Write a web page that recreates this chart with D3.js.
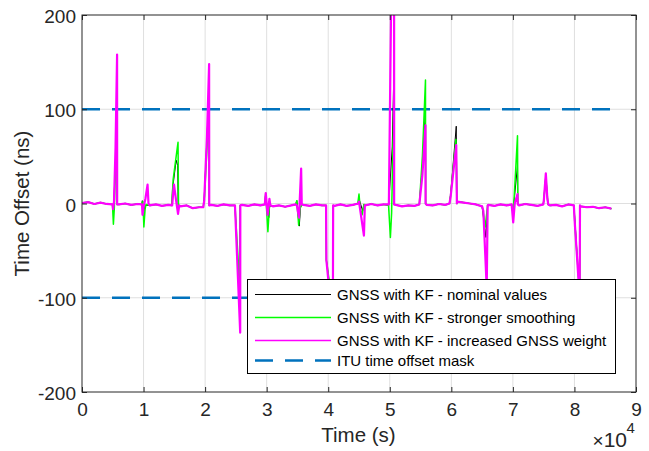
<!DOCTYPE html>
<html>
<head>
<meta charset="utf-8">
<script src="https://cdn.jsdelivr.net/npm/d3@7"></script>
<style>
  body { margin: 0; background: #fff; }
  svg { font-family: Arial, "Liberation Sans", sans-serif; }
</style>
</head>
<body>
<div id="chart"></div>
<script>
// time axis in seconds, offsets in ns
const xTicks = [0, 10000, 20000, 30000, 40000, 50000, 60000, 70000, 80000, 90000];
const yTicks = [-200, -100, 0, 100, 200];
const ituMask = [100, -100];
const ituSpan = [0, 86000];

// slow wander between events, one sample per 1000 s
const baseTimes = d3.range(0, 87000, 1000);
const baseValues = [
  0.5, 1.5, -0.5, 1, -0.5, 0, -1, 0, -1.5, -0.5,
  0, -2, -1, -2.5, -1.5, -2, -3, -2, -5, -4,
  -3, -1.5, -2.5, -1, -2, -1, -1.5, -2.5, -1, -2,
  -1.5, -3, -2, -3.5, -2, -2.5, -1.5, -2.5, -1, -2,
  -2, -2.5, -1, -2.5, -1.5, -1, -2, -0.5, -2, -1,
  -2, -1.5, -3, -2, -2.5, -1, -1.5, -2, -0.5, -1.5,
  0, 2, 1, 0, -1, -2, -1.5, -2.5, -1, -2,
  -1, -2, -0.5, -1.5, -2.5, -1, -2, -1.5, -3, -1,
  -2, -3, -4, -3.5, -5, -4, -5.5
];

// transients around each GNSS event: [t (s), offset (ns)]
const eventsNominal = [
  [[4950, -1], [5050, -8], [5150, -2], [5450, 45], [5700, 135], [5710, -1]],
  [[9700, -1], [9800, 3], [10000, -12], [10150, -4], [10300, -2]],
  [[14600, -2], [14700, 15], [15300, 46], [15550, 40], [15620, -2]],
  [[19700, -4], [19850, 5], [20300, 70], [20650, 120], [20670, -2]],
  [[24850, -2], [25650, -115], [25700, -2]],
  [[29700, -1], [29800, 8], [30350, -15], [30500, -2]],
  [[34700, -1], [34900, 3], [35300, -24], [35500, -4], [35700, -1]],
  [[39650, -2], [39700, -60], [40750, -115], [40800, -2]],
  [[44900, 0], [45000, 5], [45600, -8], [45800, -1]],
  [[49800, -2], [49900, 7], [50400, 60], [50700, 150], [50720, -1]],
  [[54800, -1], [55300, 40], [55800, 100], [55820, 0]],
  [[59700, 0], [59900, 10], [60800, 82], [60900, 0]],
  [[65000, -3], [65600, -36], [65900, -2]],
  [[69800, -1], [70000, -12], [70300, 10], [70750, 40], [70800, -1]],
  [[74900, -1], [75000, 2], [75350, 30], [75700, -1]],
  [[79900, -2], [80100, -20], [80850, -100], [80900, -2]]
];

const eventsSmooth = [
  [[4950, -1], [5100, -22], [5250, -5], [5500, 50], [5700, 110], [5710, -1]],
  [[9700, -1], [9900, 2], [10050, -25], [10250, -6], [10400, -1]],
  [[14600, -2], [14800, 25], [15500, 60], [15600, 65], [15680, -2]],
  [[19700, -4], [19900, 8], [20400, 70], [20650, 100], [20670, -2]],
  [[24850, -2], [25100, -30], [25650, -90], [25700, -2]],
  [[29700, -1], [29850, 11], [30000, -8], [30200, -30], [30450, -3]],
  [[34700, -1], [34900, 3], [35200, -23], [35450, -5], [35700, -1]],
  [[39650, -2], [39700, -60], [40750, -110], [40800, -2]],
  [[44800, 0], [45000, 10], [45200, -5], [45500, -12], [45800, -1]],
  [[49800, -2], [50100, -36], [50300, -10], [50700, 120], [50720, -1]],
  [[54800, -1], [55300, 50], [55800, 131], [55820, 0]],
  [[59700, 0], [59900, 10], [60750, 68], [60900, 0]],
  [[65000, -3], [65200, -10], [65500, -25], [65900, -2]],
  [[69800, -1], [70000, -8], [70200, 5], [70750, 72], [70800, -1]],
  [[74900, -1], [75000, 2], [75350, 28], [75700, -1]],
  [[79900, -2], [80100, -25], [80850, -95], [80900, -2]]
];

const eventsWeight = [
  [[4950, -1], [5050, -6], [5200, 2], [5450, 60], [5700, 158], [5710, -1]],
  [[9750, -1], [9830, -12], [10000, -4], [10300, 5], [10650, 20], [10800, 0]],
  [[14650, -2], [14800, 10], [14950, 20], [15250, 5], [15600, -11], [15800, -2]],
  [[19700, -4], [19850, 3], [20300, 70], [20650, 148], [20670, -2]],
  [[24850, -2], [25700, -137], [25720, -2]],
  [[29700, -1], [29850, 11], [30150, -12], [30450, 5], [30600, -2]],
  [[34700, -1], [34900, -2], [35250, -15], [35600, 37], [35700, -1]],
  [[39650, -2], [39700, -60], [40750, -130], [40800, -2]],
  [[44900, 0], [45000, 2], [45800, -34], [45950, -2]],
  [[49850, -1], [50200, 200], [50450, 280], [50700, 260], [50710, -1]],
  [[54800, -1], [55300, 30], [55800, 83], [55820, 0]],
  [[59700, 0], [59900, 8], [60800, 62], [60900, 0]],
  [[65000, -3], [65200, -8], [65750, -90], [65900, -2]],
  [[69800, -1], [70050, -20], [70300, 0], [70750, 10], [70800, -1]],
  [[74950, -1], [75050, 5], [75350, 32], [75600, 5], [75750, -1]],
  [[79900, -2], [80100, -25], [80850, -100], [80900, -2]]
];

const seriesNames = [
  "GNSS with KF - nominal values",
  "GNSS with KF - stronger smoothing",
  "GNSS with KF - increased GNSS weight"
];
const seriesColors = ["#000000", "#00ff00", "#ff00ff"];
const maskName = "ITU time offset mask";

function buildSeries(events) {
  let pts = [];
  baseTimes.forEach((t, i) => {
    let inside = events.some(e => t >= e[0][0] && t <= e[e.length - 1][0]);
    if (!inside) pts.push([t, baseValues[i]]);
  });
  events.forEach(e => e.forEach(p => pts.push(p)));
  pts.sort((a, b) => a[0] - b[0]);
  return pts;
}

const series = [eventsNominal, eventsSmooth, eventsWeight].map(buildSeries);

const width = 649, height = 451;
const m = {left: 82, top: 15, right: 636, bottom: 392};

const svg = d3.select("#chart").append("svg")
  .attr("width", width)
  .attr("height", height);

const x = d3.scaleLinear().domain([0, 90000]).range([m.left, m.right]);
const y = d3.scaleLinear().domain([-200, 200]).range([m.bottom, m.top]);

svg.append("defs").append("clipPath").attr("id", "plot")
  .append("rect")
  .attr("x", m.left).attr("y", m.top)
  .attr("width", m.right - m.left).attr("height", m.bottom - m.top);

// grid
const grid = svg.append("g").attr("stroke", "#dfdfdf").attr("stroke-width", 1);
grid.selectAll(".gx").data(xTicks.slice(1, -1)).join("line")
  .attr("x1", d => x(d)).attr("x2", d => x(d))
  .attr("y1", m.top).attr("y2", m.bottom);
grid.selectAll(".gy").data(yTicks.slice(1, -1)).join("line")
  .attr("x1", m.left).attr("x2", m.right)
  .attr("y1", d => y(d)).attr("y2", d => y(d));

const plot = svg.append("g").attr("clip-path", "url(#plot)");

// ITU mask
plot.selectAll(".mask").data(ituMask).join("line")
  .attr("x1", x(ituSpan[0])).attr("x2", x(ituSpan[1]))
  .attr("y1", d => y(d)).attr("y2", d => y(d))
  .attr("stroke", "#0072bd")
  .attr("stroke-width", 2.5)
  .attr("stroke-dasharray", "18,12");

const line = d3.line().x(d => x(d[0])).y(d => y(d[1]));
const widths = [1, 1.5, 2.2];

series.forEach((s, i) => {
  plot.append("path")
    .datum(s)
    .attr("fill", "none")
    .attr("stroke", seriesColors[i])
    .attr("stroke-width", widths[i])
    .attr("stroke-linejoin", "round")
    .attr("d", line);
});

// axes
const tickColor = "#262626";
const fs = 19;

const xAxis = svg.append("g")
  .attr("transform", "translate(0," + m.bottom + ")")
  .call(d3.axisBottom(x).tickValues(xTicks).tickFormat(d => String(d / 10000))
    .tickSizeInner(-5).tickSizeOuter(0).tickPadding(10.5));
const yAxis = svg.append("g")
  .attr("transform", "translate(" + m.left + ",0)")
  .call(d3.axisLeft(y).tickValues(yTicks).tickFormat(d => String(d))
    .tickSizeInner(-5).tickSizeOuter(0).tickPadding(6));
const xTop = svg.append("g")
  .attr("transform", "translate(0," + m.top + ")")
  .call(d3.axisTop(x).tickValues(xTicks).tickFormat("").tickSizeInner(-5).tickSizeOuter(0));
const yRight = svg.append("g")
  .attr("transform", "translate(" + m.right + ",0)")
  .call(d3.axisRight(y).tickValues(yTicks).tickFormat("").tickSizeInner(-5).tickSizeOuter(0));

[xAxis, yAxis, xTop, yRight].forEach(g => {
  g.select(".domain").remove();
  g.selectAll("line").attr("stroke", tickColor);
  g.selectAll("text").attr("fill", tickColor)
    .style("font-size", fs + "px")
    .style("font-family", "Arial, 'Liberation Sans', sans-serif");
});
yAxis.selectAll("text").attr("dy", "0.4em");

svg.append("rect")
  .attr("x", m.left).attr("y", m.top)
  .attr("width", m.right - m.left).attr("height", m.bottom - m.top)
  .attr("fill", "none")
  .attr("stroke", tickColor)
  .attr("stroke-width", 1);

// labels
svg.append("text")
  .attr("x", (m.left + m.right) / 2 - 0.5).attr("y", 441.5)
  .attr("text-anchor", "middle")
  .attr("fill", tickColor)
  .style("font-size", "20.5px")
  .text("Time (s)");

svg.append("text")
  .attr("transform", "translate(29," + (m.top + m.bottom) / 2 + ") rotate(-90)")
  .attr("text-anchor", "middle")
  .attr("fill", tickColor)
  .style("font-size", "20.5px")
  .text("Time Offset (ns)");

const expo = svg.append("text")
  .attr("x", 627).attr("y", 446.5)
  .attr("text-anchor", "end")
  .attr("fill", tickColor)
  .style("font-size", "21px");
expo.append("tspan").text("\u00d7").style("font-size", "19px");
expo.append("tspan").text("10");
svg.append("text")
  .attr("x", 626.5).attr("y", 432.5)
  .attr("fill", tickColor)
  .style("font-size", "15px")
  .text("4");

// legend
const legend = svg.append("g");
legend.append("rect")
  .attr("x", 247.5).attr("y", 279.5)
  .attr("width", 368).attr("height", 94)
  .attr("fill", "#fff")
  .attr("stroke", "#000")
  .attr("stroke-width", 1);

const legendRows = [294.5, 317.5, 340.5, 360.5];
const legendWidths = [1, 1.6, 1.3, 2.5];
const legendItems = seriesNames.map((n, i) => ({name: n, color: seriesColors[i], dash: null}))
  .concat([{name: maskName, color: "#0072bd", dash: "18,12"}]);

legendItems.forEach((d, i) => {
  const yy = legendRows[i];
  legend.append("line")
    .attr("x1", 255).attr("x2", 331)
    .attr("y1", yy).attr("y2", yy)
    .attr("stroke", d.color)
    .attr("stroke-width", legendWidths[i])
    .attr("stroke-dasharray", d.dash);
  legend.append("text")
    .attr("x", 337).attr("y", yy)
    .attr("dy", "0.35em")
    .attr("fill", "#000")
    .style("font-size", "15px")
    .text(d.name);
});
</script>
</body>
</html>
